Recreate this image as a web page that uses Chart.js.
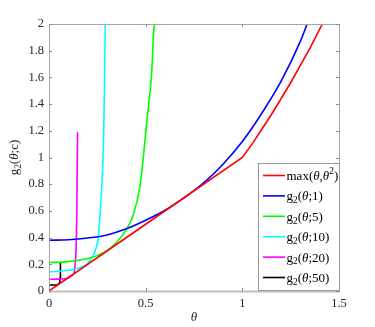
<!DOCTYPE html>
<html>
<head>
<meta charset="utf-8">
<script src="https://cdn.jsdelivr.net/npm/chart.js@4/dist/chart.umd.min.js"></script>
<style>
  html, body { margin: 0; padding: 0; background: #fff; }
  #wrap { width: 375px; height: 327px; }
</style>
</head>
<body>
<div id="wrap"><canvas id="chart" width="375" height="327"></canvas></div>
<script>
// values
const xTicks = [0, 0.5, 1, 1.5]
const yTicks = [0, 0.2, 0.4, 0.6, 0.8, 1, 1.2, 1.4, 1.6, 1.8, 2]

// max(theta, theta^2)
const maxX = [0, 0.5, 1, 1.05, 1.1, 1.15, 1.2, 1.25, 1.3, 1.35, 1.414]
const maxY = [0, 0.5, 1, 1.1, 1.21, 1.32, 1.44, 1.56, 1.69, 1.82, 2]
// g2(theta;1)
const c1X = [0, 0.1, 0.2, 0.3, 0.4, 0.5, 0.6, 0.7, 0.8, 0.9, 1.0, 1.1, 1.2, 1.3, 1.335]
const c1Y = [0.38, 0.384, 0.397, 0.42, 0.466, 0.53, 0.605, 0.70, 0.81, 0.95, 1.12, 1.33, 1.57, 1.87, 2]
// g2(theta;5)
const c5X = [0, 0.1, 0.2, 0.25, 0.3, 0.35, 0.4, 0.432, 0.47, 0.507, 0.532, 0.54, 0.545]
const c5Y = [0.213, 0.22, 0.243, 0.265, 0.302, 0.365, 0.46, 0.556, 0.78, 1.28, 1.66, 1.91, 2]
// g2(theta;10)
const c10X = [0, 0.1, 0.15, 0.2, 0.229, 0.245, 0.255, 0.268, 0.277, 0.283, 0.288, 0.291]
const c10Y = [0.143, 0.155, 0.17, 0.205, 0.268, 0.33, 0.405, 0.656, 0.906, 1.18, 1.68, 2]
// g2(theta;20)
const c20X = [0, 0.05, 0.1, 0.12, 0.13, 0.135, 0.139, 0.143, 0.146, 0.148]
const c20Y = [0.088, 0.089, 0.098, 0.118, 0.14, 0.2, 0.28, 0.5, 0.906, 1.19]
// g2(theta;50)
const c50X = [0, 0.04, 0.046, 0.055, 0.058, 0.059]
const c50Y = [0.045, 0.045, 0.05, 0.06, 0.1, 0.215]

const FONT = '"Liberation Serif", "Times New Roman", serif'

function pts(xs, ys) {
  return xs.map((x, i) => ({ x: x, y: ys[i] }))
}

// legend labels as rich-text pieces: sub = subscript, sup = superscript, it = italic
const legendLabels = [
  [{ t: 'max(' }, { t: 'θ', it: true }, { t: ',' }, { t: 'θ', it: true }, { t: '2', sup: true }, { t: ')' }],
  [{ t: 'g' }, { t: '2', sub: true }, { t: '(' }, { t: 'θ', it: true }, { t: ';1)' }],
  [{ t: 'g' }, { t: '2', sub: true }, { t: '(' }, { t: 'θ', it: true }, { t: ';5)' }],
  [{ t: 'g' }, { t: '2', sub: true }, { t: '(' }, { t: 'θ', it: true }, { t: ';10)' }],
  [{ t: 'g' }, { t: '2', sub: true }, { t: '(' }, { t: 'θ', it: true }, { t: ';20)' }],
  [{ t: 'g' }, { t: '2', sub: true }, { t: '(' }, { t: 'θ', it: true }, { t: ';50)' }]
]
const yTitle = [{ t: 'g' }, { t: '2', sub: true }, { t: '(' }, { t: 'θ', it: true }, { t: ';c)' }]
const xTitle = [{ t: 'θ', it: true }]

function segFont(s, size) {
  let sz = (s.sub || s.sup) ? size * 0.72 : size
  return (s.it ? 'italic ' : '') + sz + 'px ' + FONT
}

function richWidth(ctx, segs, size) {
  let w = 0
  segs.forEach(s => { ctx.font = segFont(s, size); w += ctx.measureText(s.t).width })
  return w
}

function drawRich(ctx, segs, x, y, size, align) {
  let w = richWidth(ctx, segs, size)
  let cx = align === 'center' ? x - w / 2 : x
  ctx.textBaseline = 'middle'
  ctx.textAlign = 'left'
  segs.forEach(s => {
    ctx.font = segFont(s, size)
    let dy = s.sub ? size * 0.3 : (s.sup ? -size * 0.35 : 0)
    ctx.fillText(s.t, cx, y + dy)
    cx += ctx.measureText(s.t).width
  })
}

const boxPlugin = {
  id: 'boxPlugin',
  afterDraw(chart) {
    const ctx = chart.ctx
    const a = chart.chartArea
    const xs = chart.scales.x, ys = chart.scales.y
    ctx.save()
    // axes box
    ctx.strokeStyle = '#a6a6a6'
    ctx.lineWidth = 1
    ctx.strokeRect(a.left + 0.5, a.top + 0.5, a.right - a.left, a.bottom - a.top)
    ctx.strokeStyle = '#c0c0c0'
    ctx.lineWidth = 2
    ctx.beginPath()
    ctx.moveTo(a.left, a.bottom + 0.5); ctx.lineTo(a.right + 1, a.bottom + 0.5)
    ctx.stroke()
    // inward ticks
    ctx.strokeStyle = '#8c8c8c'
    ctx.lineWidth = 1
    ctx.beginPath()
    xTicks.forEach(v => {
      let px = Math.round(xs.getPixelForValue(v)) + 0.5
      ctx.moveTo(px, a.bottom); ctx.lineTo(px, a.bottom - 3)
      ctx.moveTo(px, a.top); ctx.lineTo(px, a.top + 3)
    })
    yTicks.forEach(v => {
      let py = Math.round(ys.getPixelForValue(v)) + 0.5
      ctx.moveTo(a.left, py); ctx.lineTo(a.left + 3, py)
      ctx.moveTo(a.right, py); ctx.lineTo(a.right - 3, py)
    })
    ctx.stroke()

    // axis titles
    ctx.fillStyle = '#262626'
    drawRich(ctx, xTitle, (a.left + a.right) / 2, 318, 13, 'center')
    ctx.save()
    ctx.translate(15, (a.top + a.bottom) / 2)
    ctx.rotate(-Math.PI / 2)
    drawRich(ctx, yTitle, 0, 0, 13, 'center')
    ctx.restore()

    // legend
    const lx = 258.5, ly = 163.5, lw = 81, lh = 127
    ctx.fillStyle = '#fff'
    ctx.fillRect(lx, ly, lw, lh)
    ctx.strokeStyle = '#9a9a9a'
    ctx.lineWidth = 1
    ctx.strokeRect(lx, ly, lw, lh)
    chart.data.datasets.forEach((ds, i) => {
      let ry = 175.5 + i * 20.4
      ctx.strokeStyle = ds.borderColor
      ctx.lineWidth = 1.6
      ctx.beginPath()
      ctx.moveTo(263, ry); ctx.lineTo(285, ry)
      ctx.stroke()
      ctx.fillStyle = '#000'
      drawRich(ctx, legendLabels[i], 286.5, ry + 1, 13, 'left')
    })
    ctx.restore()
  }
}

const series = [
  { data: pts(maxX, maxY), color: '#ff0000', smooth: false },
  { data: pts(c1X, c1Y), color: '#0000ff', smooth: true },
  { data: pts(c5X, c5Y), color: '#00ff00', smooth: true },
  { data: pts(c10X, c10Y), color: '#00ffff', smooth: true },
  { data: pts(c20X, c20Y), color: '#ff00ff', smooth: true },
  { data: pts(c50X, c50Y), color: '#000000', smooth: false }
]

new Chart(document.getElementById('chart'), {
  type: 'line',
  data: {
    datasets: series.map(s => ({
      data: s.data,
      borderColor: s.color,
      backgroundColor: s.color,
      borderWidth: 1.6,
      pointRadius: 0,
      tension: s.smooth ? 0.3 : 0,
      cubicInterpolationMode: s.smooth ? 'monotone' : 'default',
      fill: false
    }))
  },
  options: {
    responsive: false,
    animation: false,
    layout: { padding: { top: 24, right: 36, left: 0, bottom: 0 } },
    plugins: { legend: { display: false }, tooltip: { enabled: false } },
    scales: {
      x: {
        type: 'linear',
        min: 0, max: 1.5,
        afterBuildTicks: sc => { sc.ticks = xTicks.map(v => ({ value: v })) },
        afterFit: sc => { sc.height = 36 },
        grid: { display: false, drawTicks: false },
        border: { display: false },
        ticks: {
          padding: 5,
          color: '#262626',
          font: { family: FONT, size: 12.5 },
          maxRotation: 0,
          callback: v => String(+v.toFixed(2))
        }
      },
      y: {
        type: 'linear',
        min: 0, max: 2,
        afterBuildTicks: sc => { sc.ticks = yTicks.map(v => ({ value: v })) },
        afterFit: sc => { sc.width = 49 },
        grid: { display: false, drawTicks: false },
        border: { display: false },
        ticks: {
          padding: 5,
          color: '#262626',
          font: { family: FONT, size: 12.5 },
          callback: v => String(+v.toFixed(2))
        }
      }
    }
  },
  plugins: [boxPlugin]
})
</script>
</body>
</html>
